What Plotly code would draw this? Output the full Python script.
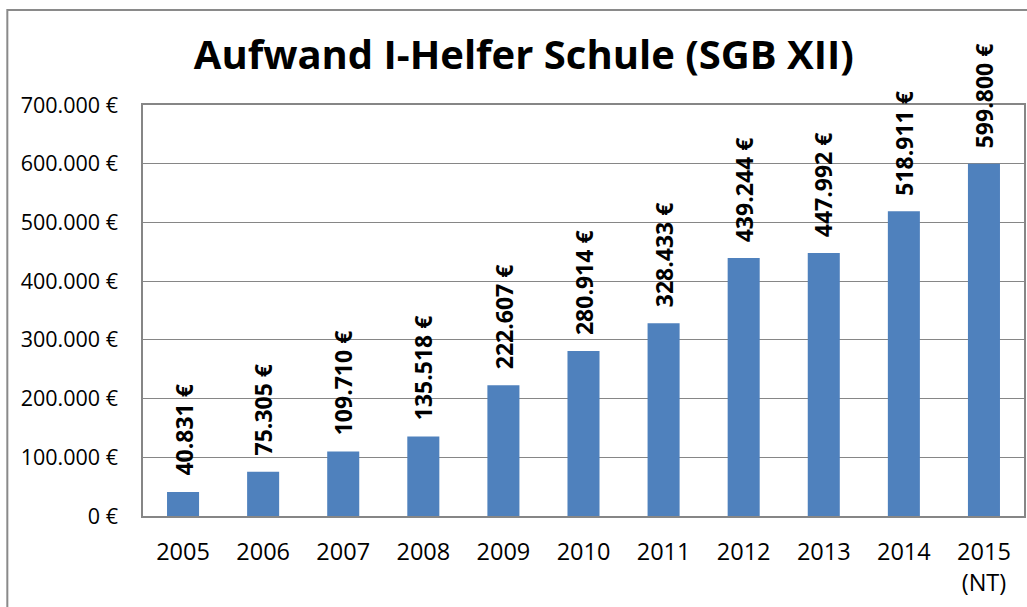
import plotly.graph_objects as go

years = ["2005", "2006", "2007", "2008", "2009", "2010", "2011", "2012", "2013", "2014", "2015<br>(NT)"]
values = [40831, 75305, 109710, 135518, 222607, 280914, 328433, 439244, 447992, 518911, 599800]
labels = ["40.831 €", "75.305 €", "109.710 €", "135.518 €", "222.607 €", "280.914 €",
          "328.433 €", "439.244 €", "447.992 €", "518.911 €", "599.800 €"]
title_text = "Aufwand I-Helfer Schule (SGB XII)"

FONT = "Open Sans"
GRID = "#868686"
BAR = "#4F81BD"

fig = go.Figure()
fig.add_trace(go.Bar(
    x=years, y=values,
    marker=dict(color=BAR, line=dict(width=0)),
    hoverinfo="skip",
))

for i, (v, t) in enumerate(zip(values, labels)):
    fig.add_annotation(
        x=i, y=v, text=t, textangle=-90, showarrow=False,
        xanchor="center", yanchor="bottom", yshift=14,
        font=dict(family=FONT, size=23, color="black", weight="bold"),
    )

fig.add_shape(
    type="rect", xref="paper", yref="paper",
    x0=-0.154, x1=2.0, y0=-1.0, y1=1.231,
    line=dict(color="#8a8a8a", width=2), fillcolor="rgba(0,0,0,0)", layer="below",
)

fig.update_layout(
    width=1027, height=607,
    margin=dict(l=143, r=1, t=105, b=91),
    paper_bgcolor="white", plot_bgcolor="white",
    separators=",.",
    bargap=0.6,
    showlegend=False,
    title=dict(
        text=title_text, x=0.51, xanchor="center", y=0.91, yanchor="middle",
        xref="container", yref="container",
        font=dict(family=FONT, size=40, color="black", weight="bold"),
    ),
    xaxis=dict(
        type="category", range=[-0.5, len(years) - 0.5], autorange=False,
        showline=True, linecolor=GRID, linewidth=1.5, mirror=True,
        showgrid=False, ticks="", ticklabelstandoff=14,
        tickfont=dict(family=FONT, size=23.5, color="black"),
    ),
    yaxis=dict(
        range=[0, 700000], dtick=100000, tick0=0,
        tickformat=",.0f", ticksuffix=" €",
        showline=True, linecolor=GRID, linewidth=1.5, mirror=True,
        showgrid=True, gridcolor=GRID, gridwidth=1.2,
        zeroline=False, ticks="", ticklabelstandoff=19,
        tickfont=dict(family=FONT, size=21.5, color="black"),
    ),
)

fig.write_html("out.html", config={"displayModeBar": False},
               post_script="document.body.style.margin='0';")
